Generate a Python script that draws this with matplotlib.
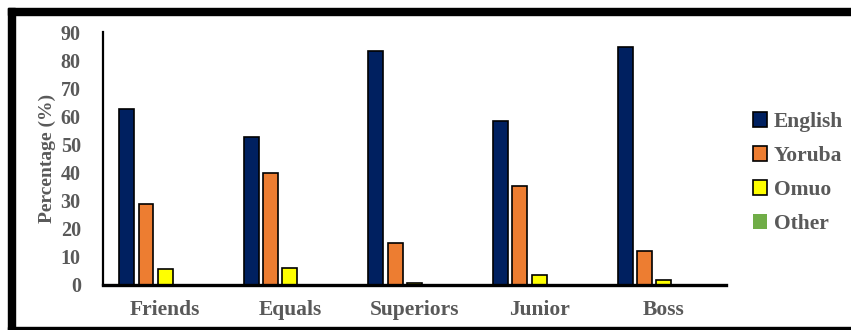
#Language use by addressee - grouped bar chart

import numpy as np
import matplotlib.pyplot as plt
from matplotlib.patches import Rectangle

#data
categories = ['Friends', 'Equals', 'Superiors', 'Junior', 'Boss']
english = [62.5, 52.8, 83.4, 58.3, 84.8]
yoruba = [28.9, 40.0, 14.8, 35.2, 12.1]
omuo = [5.8, 6.2, 0.6, 3.6, 1.8]
other = [0.5, 0.0, 0.0, 0.0, 0.0]
series_names = ['English', 'Yoruba', 'Omuo', 'Other']
y_ticks = [0, 10, 20, 30, 40, 50, 60, 70, 80, 90]

#styles
colors = ['#002060', '#ED7D31', '#FFFF00', '#70AD47']
edges = ['black', 'black', 'black', 'none']
text_grey = '#595959'
W, H = 851, 330

plt.rcParams['font.family'] = ['Liberation Serif', 'DejaVu Serif']
plt.rcParams['font.weight'] = 'bold'

fig = plt.figure(figsize=(W / 100, H / 100), dpi=100)
# axes box in pixels: left 103, right 726, top 32, bottom 285
ax = fig.add_axes([103 / W, 1 - 285 / H, (726 - 103) / W, (285 - 32) / H])

x = np.arange(len(categories))
step = 0.155
width = 0.12
all_series = [english, yoruba, omuo, other]
for i, vals in enumerate(all_series):
    ax.bar(x + (i - 2) * step, vals, width, color=colors[i],
           edgecolor=edges[i], linewidth=1.2, label=series_names[i], zorder=3)

ax.set_xlim(-0.5, len(categories) - 0.5)
ax.set_ylim(0, 90)
ax.set_yticks(y_ticks)
ax.set_xticks(x)
ax.set_xticklabels(categories)
ax.tick_params(axis='both', length=0, colors=text_grey)
ax.tick_params(axis='x', pad=11, labelsize=15.5)
ax.tick_params(axis='y', pad=16, labelsize=14.5)
for lab in ax.get_xticklabels() + ax.get_yticklabels():
    lab.set_fontweight('bold')

for s in ['top', 'right']:
    ax.spines[s].set_visible(False)
ax.spines['left'].set_linewidth(1.6)
ax.spines['bottom'].set_linewidth(2.4)
ax.spines['left'].set_zorder(4)
ax.spines['bottom'].set_zorder(4)

ax.set_ylabel('Percentage (%)', color=text_grey, fontsize=14,
              fontweight='bold', labelpad=3)

leg = ax.legend(loc='center left', bbox_to_anchor=(734 / W, 1 - 173 / H),
                bbox_transform=fig.transFigure, frameon=False,
                fontsize=15.5, handlelength=0.65, handleheight=0.65,
                handletextpad=0.3, labelspacing=0.65)
for t in leg.get_texts():
    t.set_color(text_grey)
    t.set_fontweight('bold')

#border around figure (left, top, bottom bands)
def px_rect(x0, y0, x1, y1):
    return Rectangle((x0 / W, 1 - y1 / H), (x1 - x0) / W, (y1 - y0) / H,
                     transform=fig.transFigure, color='black', zorder=10)

fig.patches.append(px_rect(8, 8, 15, 330))
fig.patches.append(px_rect(8, 8, 851, 15))
fig.patches.append(px_rect(8, 327, 851, 330))

fig.savefig('out.png', dpi=100)
